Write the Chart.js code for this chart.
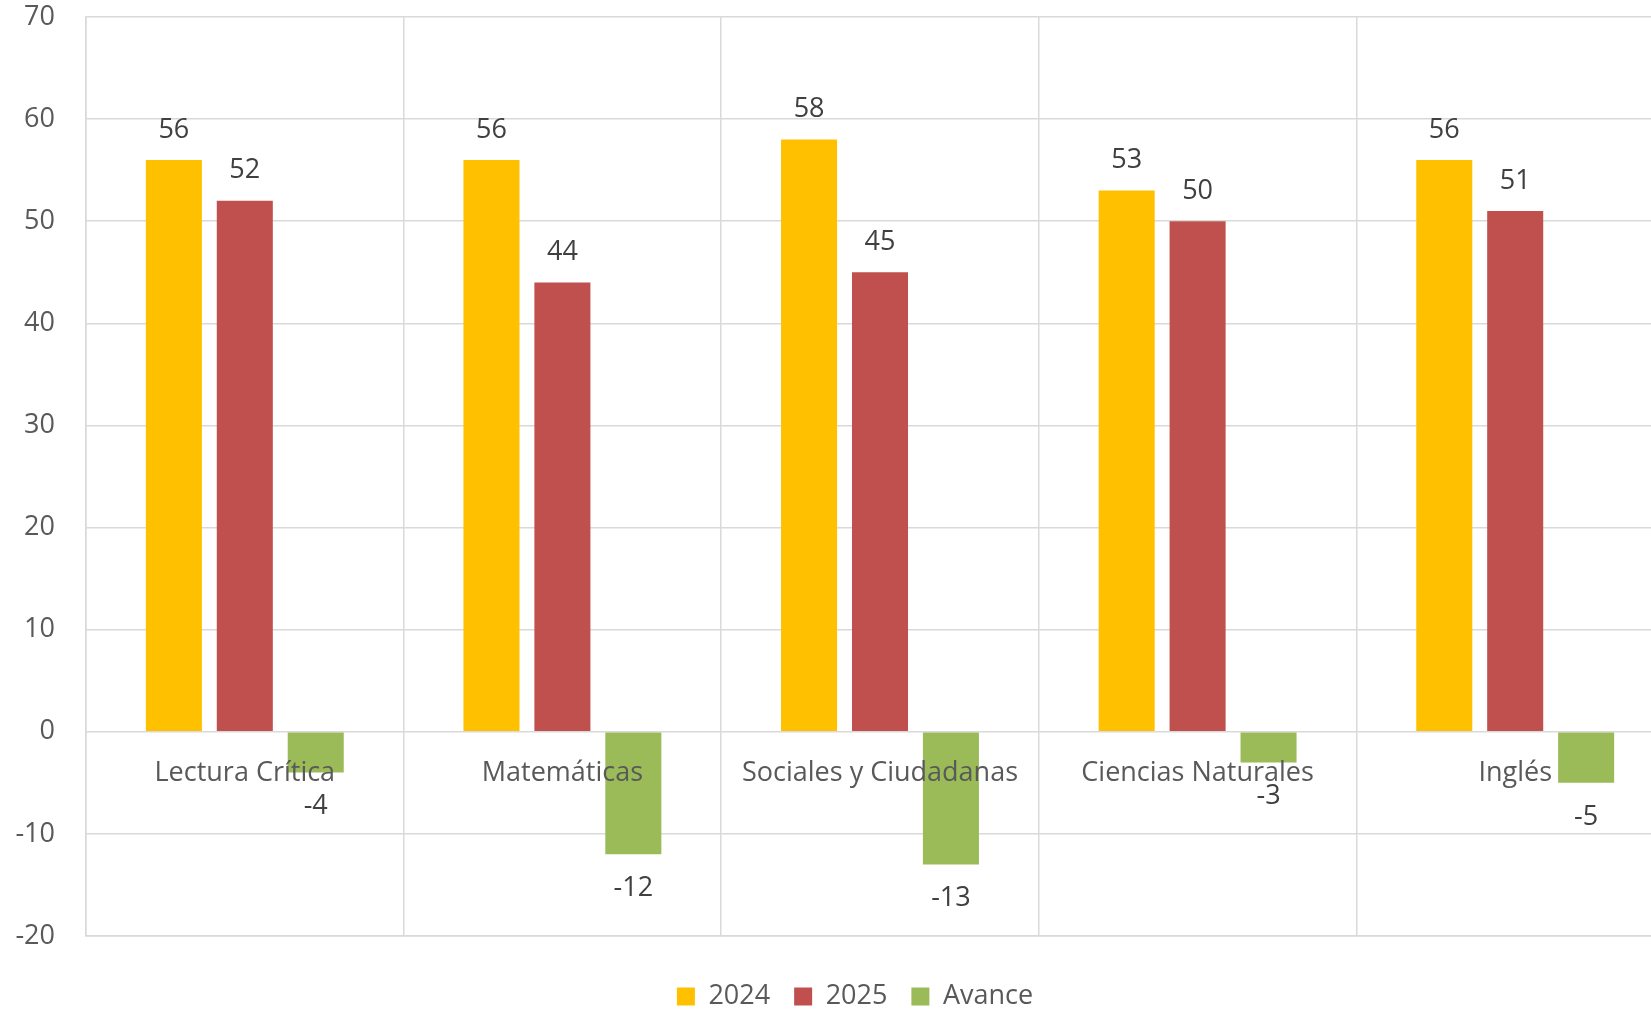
<!DOCTYPE html>
<html>
<head>
<meta charset="utf-8">
<script src="https://cdn.jsdelivr.net/npm/chart.js@4"></script>
<style>
  html, body { margin: 0; padding: 0; background: #fff; overflow: hidden; }
  #wrap { width: 1710px; height: 1009px; }
</style>
</head>
<body>
<div id="wrap"><canvas id="resultsChart"></canvas></div>
<script>
const areas = ['Lectura Crítica', 'Matemáticas', 'Sociales y Ciudadanas', 'Ciencias Naturales', 'Inglés'];
const scores2024 = [56, 56, 58, 53, 56];
const scores2025 = [52, 44, 45, 50, 51];
const avance = [-4, -12, -13, -3, -5];

const FONT = '"Open Sans", sans-serif';
const gridColor = '#D9D9D9';

// valores encima / debajo de cada barra
const barValues = {
  id: 'barValues',
  afterDatasetsDraw(chart) {
    const ctx = chart.ctx;
    ctx.save();
    ctx.font = '27px ' + FONT;
    ctx.fillStyle = '#404040';
    ctx.textAlign = 'center';
    ctx.textBaseline = 'middle';
    chart.data.datasets.forEach((ds, i) => {
      chart.getDatasetMeta(i).data.forEach((bar, j) => {
        const v = ds.data[j];
        const y = v >= 0 ? bar.y - 30 : bar.y + 34;
        ctx.fillText(String(v), bar.x, y);
      });
    });
    ctx.restore();
  }
};

// nombres de las areas junto a la linea del cero
const areaLabels = {
  id: 'areaLabels',
  afterDatasetsDraw(chart) {
    const ctx = chart.ctx;
    const x = chart.scales.x;
    const y0 = chart.scales.y.getPixelForValue(0);
    ctx.save();
    ctx.font = '27px ' + FONT;
    ctx.fillStyle = '#595959';
    ctx.textAlign = 'center';
    ctx.textBaseline = 'middle';
    areas.forEach((name, i) => {
      ctx.fillText(name, x.getPixelForValue(i), y0 + 42);
    });
    ctx.restore();
  }
};

new Chart(document.getElementById('resultsChart'), {
  type: 'bar',
  data: {
    labels: areas,
    datasets: [
      { label: '2024', data: scores2024, backgroundColor: '#FFC000' },
      { label: '2025', data: scores2025, backgroundColor: '#C0504D' },
      { label: 'Avance', data: avance, backgroundColor: '#9BBB59' }
    ]
  },
  options: {
    responsive: true,
    maintainAspectRatio: false,
    animation: false,
    devicePixelRatio: 1,
    datasets: {
      bar: { categoryPercentage: 0.67, barPercentage: 0.79 }
    },
    layout: { padding: { left: 0, right: 0, top: 17, bottom: -11 } },
    plugins: {
      tooltip: { enabled: false },
      legend: {
        position: 'bottom',
        labels: {
          boxWidth: 18,
          boxHeight: 18,
          padding: 24,
          color: '#595959',
          font: { family: FONT, size: 27 }
        }
      }
    },
    scales: {
      x: {
        grid: { color: gridColor, lineWidth: 1.5, offset: true, drawTicks: false },
        border: { color: gridColor, width: 1.5 },
        ticks: { display: false },
        afterFit(scale) { scale.height = 23; }
      },
      y: {
        min: -20,
        max: 70,
        ticks: {
          stepSize: 10,
          padding: 31,
          color: '#595959',
          font: { family: FONT, size: 27 }
        },
        grid: { color: gridColor, lineWidth: 1.5, drawTicks: false },
        border: { color: gridColor, width: 1.5 },
        afterFit(scale) {
          scale.width = 86;
          scale.paddingTop = 0;
          scale.paddingBottom = 0;
        }
      },
      // margen derecho vacio (el grafico original sigue fuera del recorte)
      yRight: {
        type: 'linear',
        position: 'right',
        min: -20,
        max: 70,
        ticks: { display: false },
        grid: { display: false, drawTicks: false },
        border: { display: false },
        afterFit(scale) {
          scale.width = 36;
          scale.paddingTop = 0;
          scale.paddingBottom = 0;
        }
      }
    }
  },
  plugins: [barValues, areaLabels]
});
</script>
</body>
</html>
